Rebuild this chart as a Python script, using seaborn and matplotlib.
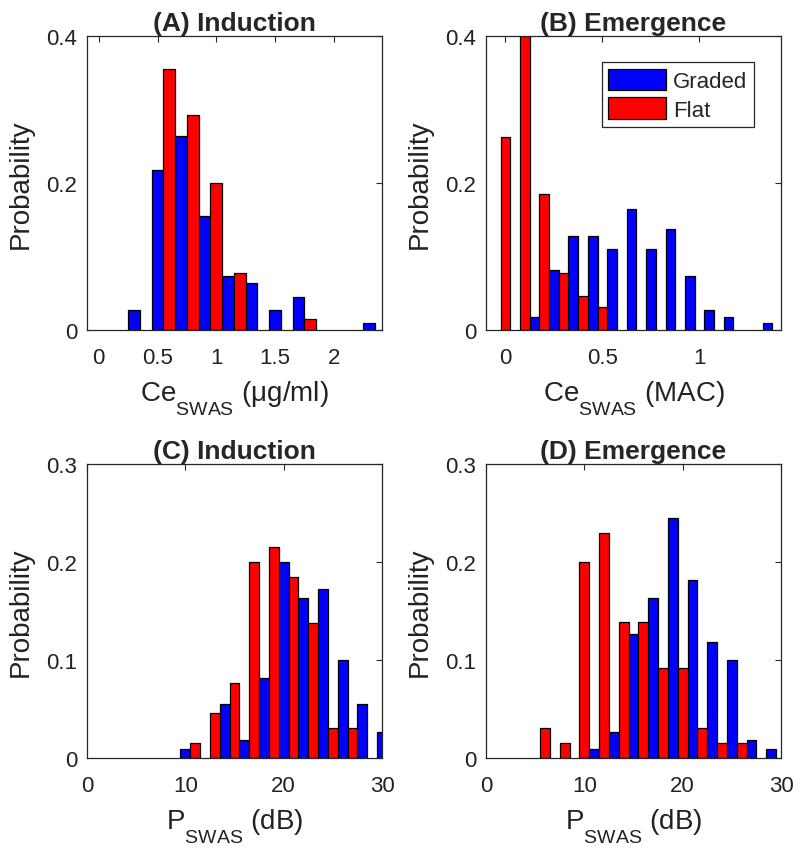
import numpy as np
import pandas as pd
import matplotlib
matplotlib.use("Agg")
import matplotlib.pyplot as plt
import matplotlib._mathtext as _mt
import seaborn as sns

# ---------------- data ----------------
# Panel A: Induction, Ce_SWAS (ug/ml)
a_graded_x = [0.3, 0.5, 0.7, 0.9, 1.1, 1.3, 1.5, 1.7, 1.9, 2.1, 2.3]
a_graded_p = [0.027, 0.218, 0.264, 0.155, 0.073, 0.064, 0.027, 0.045, 0.0, 0.0, 0.009]
a_flat_x = [0.4, 0.6, 0.8, 1.0, 1.2, 1.4, 1.6, 1.8]
a_flat_p = [0.0, 0.355, 0.293, 0.200, 0.077, 0.0, 0.0, 0.015]

# Panel B: Emergence, Ce_SWAS (MAC)
b_graded_x = [0.15, 0.25, 0.35, 0.45, 0.55, 0.65, 0.75, 0.85, 0.95, 1.05, 1.15, 1.25, 1.35]
b_graded_p = [0.018, 0.082, 0.128, 0.128, 0.110, 0.164, 0.110, 0.137, 0.073, 0.027, 0.018, 0.0, 0.009]
b_flat_x = [0.0, 0.1, 0.2, 0.3, 0.4, 0.5]
b_flat_p = [0.262, 0.400, 0.185, 0.077, 0.046, 0.031]

# Panel C: Induction, P_SWAS (dB)
c_graded_x = [10, 12, 14, 16, 18, 20, 22, 24, 26, 28, 30]
c_graded_p = [0.009, 0.0, 0.055, 0.018, 0.082, 0.200, 0.163, 0.172, 0.100, 0.055, 0.027]
c_flat_x = [11, 13, 15, 17, 19, 21, 23, 25, 27]
c_flat_p = [0.015, 0.046, 0.077, 0.200, 0.215, 0.185, 0.138, 0.031, 0.031]

# Panel D: Emergence, P_SWAS (dB)
d_graded_x = [11, 13, 15, 17, 19, 21, 23, 25, 27, 29]
d_graded_p = [0.009, 0.027, 0.127, 0.163, 0.245, 0.182, 0.118, 0.100, 0.018, 0.009]
d_flat_x = [6, 8, 10, 12, 14, 16, 18, 20, 22, 24, 26]
d_flat_p = [0.031, 0.015, 0.200, 0.230, 0.1385, 0.1385, 0.092, 0.092, 0.031, 0.015, 0.015]

series_names = ["Graded", "Flat"]
series_colors = ["#0000FF", "#FF0000"]

titles = ["(A) Induction", "(B) Emergence", "(C) Induction", "(D) Emergence"]
xlabels = ["Ce$_{\\mathregular{SWAS}}$ (μg/ml)", "Ce$_{\\mathregular{SWAS}}$ (MAC)",
           "P$_{\\mathregular{SWAS}}$ (dB)", "P$_{\\mathregular{SWAS}}$ (dB)"]
xticks_list = [[0, 0.5, 1, 1.5, 2], [0, 0.5, 1], [0, 10, 20, 30], [0, 10, 20, 30]]
xtick_labels = [["0", "0.5", "1", "1.5", "2"], ["0", "0.5", "1"],
                ["0", "10", "20", "30"], ["0", "10", "20", "30"]]
yticks_list = [[0, 0.2, 0.4], [0, 0.2, 0.4], [0, 0.1, 0.2, 0.3], [0, 0.1, 0.2, 0.3]]
ytick_labels = [["0", "0.2", "0.4"], ["0", "0.2", "0.4"],
                ["0", "0.1", "0.2", "0.3"], ["0", "0.1", "0.2", "0.3"]]
xlims = [(-0.1, 2.41), (-0.1, 1.42), (0, 30), (0, 30)]
ylims = [(0, 0.4), (0, 0.4), (0, 0.3), (0, 0.3)]

panels = [
    (a_graded_x, a_graded_p, a_flat_x, a_flat_p),
    (b_graded_x, b_graded_p, b_flat_x, b_flat_p),
    (c_graded_x, c_graded_p, c_flat_x, c_flat_p),
    (d_graded_x, d_graded_p, d_flat_x, d_flat_p),
]

# ---------------- style ----------------
sns.set_style("white")
plt.rcParams["font.family"] = ["Liberation Sans", "DejaVu Sans"]
plt.rcParams["mathtext.fontset"] = "custom"
plt.rcParams["mathtext.rm"] = "Liberation Sans"
plt.rcParams["mathtext.it"] = "Liberation Sans:italic"
plt.rcParams["mathtext.bf"] = "Liberation Sans:bold"
# deeper subscripts, as in the original figure
try:
    _mt.FontConstantsBase.sub1 = 0.95
except Exception:
    pass

W, H = 800, 853
fig = plt.figure(figsize=(W / 100, H / 100), dpi=100)

# axes rectangles in pixels: (left, top, right, bottom)
rects_px = [(87, 37, 382, 331), (486, 37, 781, 331),
            (87, 465, 382, 759), (486, 465, 781, 759)]

edge_gray = "#262626"
for i, (gx, gp, fx, fp) in enumerate(panels):
    l, t, r, b = rects_px[i]
    ax = fig.add_axes([l / W, (H - b) / H, (r - l) / W, (b - t) / H])
    df = pd.DataFrame({
        "x": list(gx) + list(fx),
        "p": list(gp) + list(fp),
        "series": [series_names[0]] * len(gx) + [series_names[1]] * len(fx),
    })
    df = df[df["p"] > 0]
    sns.barplot(data=df, x="x", y="p", hue="series", hue_order=series_names,
                palette=series_colors, native_scale=True, dodge=False,
                width=1.0, saturation=1, errorbar=None, edgecolor="black",
                linewidth=0.9, ax=ax, legend=(i == 1))
    ax.set_xlim(*xlims[i])
    ax.set_ylim(*ylims[i])
    ax.set_xticks(xticks_list[i])
    ax.set_xticklabels(xtick_labels[i])
    ax.set_yticks(yticks_list[i])
    ax.set_yticklabels(ytick_labels[i])
    ax.tick_params(axis="both", direction="in", length=4, width=0.8,
                   colors=edge_gray, labelcolor="#222222", labelsize=16,
                   top=True, right=True)
    ax.tick_params(axis="x", pad=12)
    ax.tick_params(axis="y", pad=7)
    for sp in ax.spines.values():
        sp.set_visible(True)
        sp.set_color(edge_gray)
        sp.set_linewidth(0.9)
    ax.set_title(titles[i], fontsize=19, fontweight="bold", pad=4)
    ax.set_xlabel(xlabels[i], fontsize=20, color="#222222", labelpad=8)
    ax.set_ylabel("Probability", fontsize=20, color="#222222", labelpad=9)
    if i == 1:
        leg = ax.legend(loc="upper right", bbox_to_anchor=(0.908, 0.912),
                        borderaxespad=0, fontsize=16, frameon=True,
                        fancybox=False, edgecolor=edge_gray, framealpha=1,
                        handlelength=2.6, handleheight=1.1,
                        handletextpad=0.3, labelspacing=0.25, borderpad=0.3)
        leg.get_frame().set_linewidth(0.9)
        for h in leg.legend_handles:
            h.set_edgecolor("black")

fig.savefig("out.png", dpi=100)
